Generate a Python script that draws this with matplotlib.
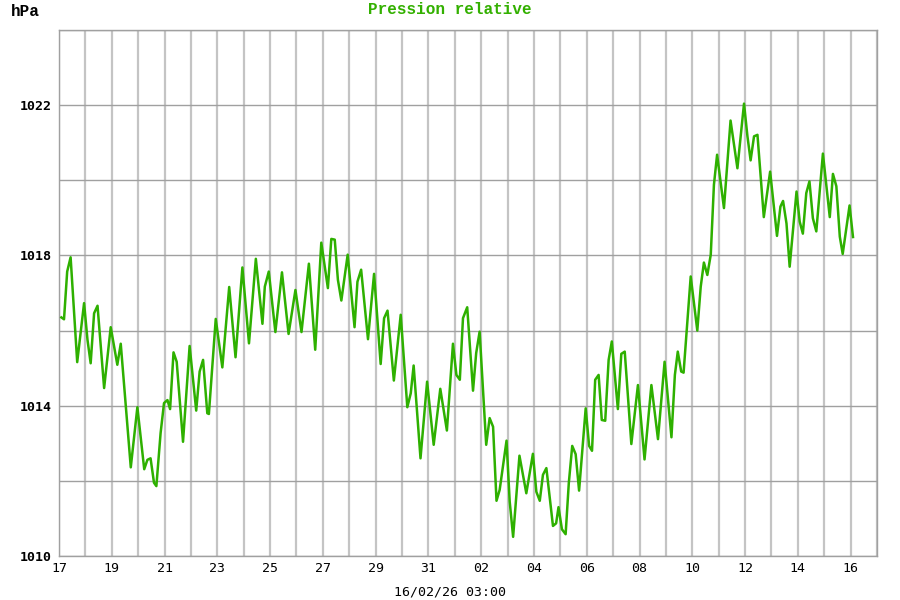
import matplotlib
matplotlib.use('Agg')
import matplotlib.pyplot as plt
from datetime import date, timedelta

plt.rcParams['font.family'] = ['DejaVu Sans Mono', 'Liberation Mono']

# jours depuis le 17/01 00:00, pression relative (hPa)
days = [0.09, 0.19, 0.31, 0.44, 0.69, 0.95, 1.08, 1.20, 1.33, 1.46, 1.71, 1.96,
        2.21, 2.34, 2.72, 2.97, 3.23, 3.35, 3.47, 3.60, 3.69, 3.85, 3.98, 4.11,
        4.21, 4.34, 4.46, 4.70, 4.95, 5.20, 5.33, 5.46, 5.62, 5.68, 5.94, 6.19,
        6.45, 6.69, 6.95, 7.20, 7.46, 7.71, 7.80, 7.95, 8.20, 8.45, 8.70, 8.96,
        9.19, 9.47, 9.71, 9.94, 10.19, 10.32, 10.45, 10.57, 10.70, 10.94, 11.20,
        11.31, 11.45, 11.71, 11.94, 12.19, 12.32, 12.45, 12.69, 12.95, 13.20,
        13.33, 13.44, 13.70, 13.95, 14.20, 14.45, 14.70, 14.93, 15.06, 15.19,
        15.31, 15.47, 15.69, 15.81, 15.94, 16.19, 16.32, 16.45, 16.58, 16.70,
        16.96, 17.08, 17.21, 17.45, 17.71, 17.96, 18.09, 18.22, 18.34, 18.47,
        18.72, 18.84, 18.93, 19.06, 19.20, 19.32, 19.45, 19.58, 19.71, 19.96,
        20.09, 20.20, 20.32, 20.45, 20.57, 20.70, 20.83, 20.95, 21.18, 21.31,
        21.44, 21.69, 21.94, 22.19, 22.45, 22.70, 22.95, 23.21, 23.34, 23.45,
        23.58, 23.67, 23.94, 24.19, 24.32, 24.44, 24.57, 24.70, 24.82, 24.94,
        25.20, 25.45, 25.71, 25.96, 26.09, 26.21, 26.34, 26.47, 26.71, 26.95,
        27.21, 27.34, 27.44, 27.57, 27.69, 27.95, 28.07, 28.19, 28.32, 28.44,
        28.57, 28.70, 28.95, 29.21, 29.33, 29.46, 29.59, 29.70, 29.96, 30.09]
hpa = [1016.35, 1016.30, 1017.57, 1017.95, 1015.16, 1016.73, 1015.75, 1015.13,
       1016.46, 1016.66, 1014.47, 1016.09, 1015.09, 1015.65, 1012.36, 1013.96,
       1012.31, 1012.56, 1012.60, 1011.95, 1011.86, 1013.27, 1014.07, 1014.15,
       1013.91, 1015.42, 1015.17, 1013.04, 1015.59, 1013.87, 1014.91, 1015.22,
       1013.80, 1013.78, 1016.31, 1015.02, 1017.16, 1015.29, 1017.68, 1015.66,
       1017.91, 1016.18, 1017.17, 1017.57, 1015.96, 1017.55, 1015.91, 1017.08,
       1015.96, 1017.78, 1015.49, 1018.34, 1017.13, 1018.44, 1018.42, 1017.35,
       1016.80, 1018.02, 1016.09, 1017.30, 1017.62, 1015.77, 1017.51, 1015.11,
       1016.33, 1016.53, 1014.67, 1016.42, 1013.96, 1014.33, 1015.07, 1012.60,
       1014.64, 1012.96, 1014.45, 1013.34, 1015.65, 1014.82, 1014.69, 1016.33,
       1016.62, 1014.40, 1015.40, 1015.97, 1012.96, 1013.67, 1013.44, 1011.47,
       1011.76, 1013.07, 1011.45, 1010.51, 1012.67, 1011.67, 1012.72, 1011.71,
       1011.47, 1012.16, 1012.34, 1010.80, 1010.87, 1011.30, 1010.71, 1010.58,
       1011.94, 1012.93, 1012.71, 1011.74, 1013.93, 1012.93, 1012.80, 1014.69,
       1014.82, 1013.62, 1013.60, 1015.22, 1015.71, 1013.91, 1015.38, 1015.44,
       1012.98, 1014.55, 1012.57, 1014.55, 1013.11, 1015.17, 1013.16, 1014.82,
       1015.44, 1014.91, 1014.88, 1017.44, 1016.00, 1017.17, 1017.81, 1017.48,
       1018.02, 1019.88, 1020.68, 1019.26, 1021.59, 1020.32, 1022.04, 1021.17,
       1020.53, 1021.17, 1021.21, 1019.02, 1020.23, 1018.52, 1019.30, 1019.45,
       1018.85, 1017.70, 1019.70, 1018.90, 1018.58, 1019.66, 1019.97, 1018.99,
       1018.64, 1020.71, 1019.02, 1020.17, 1019.84, 1018.50, 1018.04, 1019.33,
       1018.49]

start = date(2026, 1, 17)
tick_days = list(range(0, 31, 2))
tick_labels = [(start + timedelta(days=d)).strftime('%d') for d in tick_days]
y_ticks = [1010, 1014, 1018, 1022]

fig = plt.figure(figsize=(9, 6), dpi=100, facecolor='white')
ax = fig.add_axes([59/900, 44/600, 818/900, 526/600])

for d in range(0, 32):
    ax.axvline(d, color='#c4c4c4', lw=1.6, zorder=1)
for v in range(1010, 1025, 2):
    ax.axhline(v, color='#a0a0a0', lw=1.0, zorder=1)

ax.plot(days, hpa, color='#2eb000', lw=1.8, zorder=3)

ax.set_xlim(0, 31)
ax.set_ylim(1010, 1024)
ax.set_xticks(tick_days)
ax.set_xticklabels(tick_labels)
ax.set_yticks(y_ticks)
ax.set_yticklabels([str(v) for v in y_ticks], fontweight='bold')
ax.tick_params(length=0, labelsize=9.5)
ax.tick_params(axis='y', pad=5)
ax.tick_params(axis='x', pad=4)
for sp in ax.spines.values():
    sp.set_color('#a0a0a0')
    sp.set_linewidth(1.0)

fig.text(0.012, 1 - 12/600, 'hPa', fontsize=11.5, fontweight='bold', ha='left',
         va='center', family='Liberation Mono')
fig.text(0.5, 1 - 10/600, 'Pression relative', fontsize=11.5, fontweight='bold',
         color='#33b000', ha='center', va='center', family='Liberation Mono')
fig.text(0.5, 1 - 592/600, '16/02/26 03:00', fontsize=9.5, ha='center', va='center')

plt.savefig('out.png', dpi=100)
plt.close()
